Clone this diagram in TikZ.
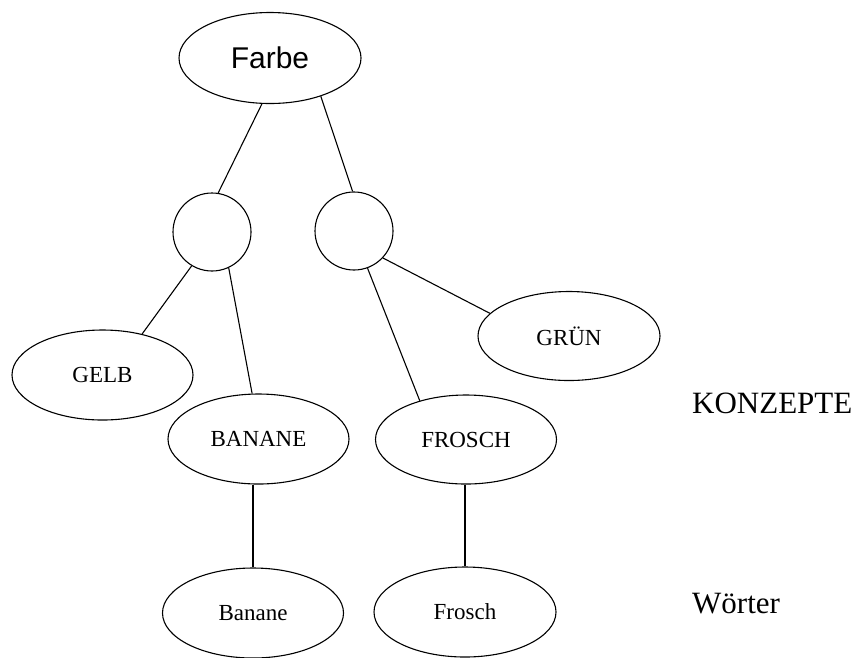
\documentclass[tikz,border=0pt]{standalone}
\usepackage{fontspec}
\setmainfont{Liberation Serif}
\newfontfamily\sansf{Liberation Sans}
\usetikzlibrary{shapes.geometric}
\tikzset{
  ell/.style={draw, ellipse, line width=1.1pt, inner sep=0pt, minimum width=181pt, minimum height=90pt, font=\fontsize{23}{26}\selectfont},
  hub/.style={draw, circle, line width=1.1pt, inner sep=0pt, minimum size=78pt},
  edge/.style={line width=1.1pt},
  lbl/.style={inner sep=0pt, anchor=base west, font=\fontsize{31}{36}\selectfont}
}
\begin{document}
\begin{tikzpicture}[x=1pt, y=-1pt]
\useasboundingbox (0,0) rectangle (853,657);
\node[ell, minimum width=182pt, minimum height=91pt, font=\sansf\fontsize{30}{34}\selectfont] (farbe) at (270,58) {Farbe};
\node[hub] (cl) at (212,232) {};
\node[hub] (cr) at (354,231) {};
\node[ell] (gelb) at (102.5,375) {GELB};
\node[ell] (bananek) at (258.5,439) {BANANE};
\node[ell, minimum height=89pt] (froschk) at (466,439.5) {FROSCH};
\node[ell, minimum width=182pt, minimum height=89pt] (gruen) at (569,336) {GRÜN};
\node[ell] (bananew) at (253,613) {Banane};
\node[ell, minimum width=182pt] (froschw) at (465,612) {Frosch};
\node[lbl] (konz) at (692,413) {KONZEPTE};
\node[lbl] (woert) at (692,613) {Wörter};
\draw[edge] (farbe.260) -- (cl.81);
\draw[edge] (farbe.-37) -- (cr.92);
\draw[edge] (cl.-121) -- (gelb.46);
\draw[edge] (cl.-65) -- (bananek.98);
\draw[edge] (cr.-70) -- (froschk.140);
\draw[edge] (cr.-43) -- (gruen.164);
\draw[edge] (bananek.south -| bananew.north) -- (bananew.north);
\draw[edge] (froschk.south -| froschw.north) -- (froschw.north);
\end{tikzpicture}
\end{document}
